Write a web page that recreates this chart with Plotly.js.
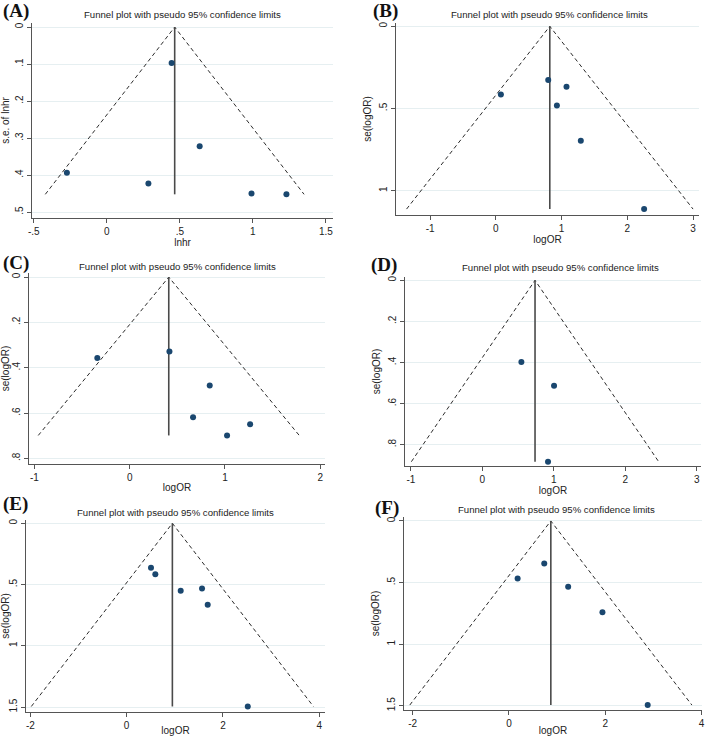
<!DOCTYPE html>
<html>
<head>
<meta charset="utf-8">
<script src="https://cdn.plot.ly/plotly-3.0.1.min.js"></script>
<style>
  html, body { margin: 0; padding: 0; background: #ffffff; }
  #chart { width: 709px; height: 736px; }
</style>
</head>
<body>
<div id="chart"></div>
<script>
// Study effects (x) and their standard errors (se) for each funnel plot
const effA = [0.444, 0.636, -0.273, 0.285, 0.991, 1.230];
const seA  = [0.097, 0.322, 0.394, 0.423, 0.450, 0.452];
const pooledA = 0.465;

const effB = [0.076, 0.796, 1.074, 0.928, 1.292, 2.255];
const seB  = [0.415, 0.327, 0.368, 0.482, 0.697, 1.112];
const pooledB = 0.82;

const effC = [-0.340, 0.417, 0.840, 0.665, 1.264, 1.022];
const seC  = [0.357, 0.329, 0.479, 0.619, 0.650, 0.699];
const pooledC = 0.41;

const effD = [0.546, 1.003, 0.919];
const seD  = [0.398, 0.513, 0.883];
const pooledD = 0.737;

const effE = [0.506, 0.596, 1.123, 1.566, 1.684, 2.516];
const seE  = [0.363, 0.415, 0.551, 0.532, 0.665, 1.495];
const pooledE = 0.95;

const effF = [0.733, 0.180, 1.230, 1.942, 2.882];
const seF  = [0.346, 0.468, 0.535, 0.741, 1.495];
const pooledF = 0.87;

// Axis tick values and their Stata-style labels
const xTicksA = [-0.5, 0, 0.5, 1, 1.5];      const xLabA = ['-.5', '0', '.5', '1', '1.5'];
const yTicksA = [0, 0.1, 0.2, 0.3, 0.4, 0.5]; const yLabA = ['0', '.1', '.2', '.3', '.4', '.5'];
const xTicksB = [-1, 0, 1, 2, 3];            const xLabB = ['-1', '0', '1', '2', '3'];
const yTicksB = [0, 0.5, 1];                 const yLabB = ['0', '.5', '1'];
const xTicksC = [-1, 0, 1, 2];               const xLabC = ['-1', '0', '1', '2'];
const yTicksC = [0, 0.2, 0.4, 0.6, 0.8];     const yLabC = ['0', '.2', '.4', '.6', '.8'];
const xTicksD = [-1, 0, 1, 2, 3];            const xLabD = ['-1', '0', '1', '2', '3'];
const yTicksD = [0, 0.2, 0.4, 0.6, 0.8];     const yLabD = ['0', '.2', '.4', '.6', '.8'];
const xTicksE = [-2, 0, 2, 4];               const xLabE = ['-2', '0', '2', '4'];
const yTicksE = [0, 0.5, 1, 1.5];            const yLabE = ['0', '.5', '1', '1.5'];
const xTicksF = [-2, 0, 2, 4];               const xLabF = ['-2', '0', '2', '4'];
const yTicksF = [0, 0.5, 1, 1.5];            const yLabF = ['0', '.5', '1', '1.5'];

const xTitles = ['lnhr', 'logOR', 'logOR', 'logOR', 'logOR', 'logOR'];
const yTitles = ['s.e. of lnhr', 'se(logOR)', 'se(logOR)', 'se(logOR)', 'se(logOR)', 'se(logOR)'];
const panelTags = ['(A)', '(B)', '(C)', '(D)', '(E)', '(F)'];
const plotTitle = 'Funnel plot with pseudo 95% confidence limits';

const W = 709, H = 736;
const FONT = 'Liberation Sans, Arial, sans-serif';

// Plot-region geometry in pixels: [left, right, top, bottom], plus axis ranges
const panels = [
  {eff: effA, se: seA, pooled: pooledA, xt: xTicksA, xl: xLabA, yt: yTicksA, yl: yLabA,
   box: [32, 333, 23, 218], xr: [-0.512, 1.549], yr: [0.516, -0.011],
   tag: [1, 11], ttl: [182, 15]},
  {eff: effB, se: seB, pooled: pooledB, xt: xTicksB, xl: xLabB, yt: yTicksB, yl: yLabB,
   box: [396, 699, 23, 215], xr: [-1.52, 3.09], yr: [1.148, -0.02],
   tag: [371, 11], ttl: [549, 14]},
  {eff: effC, se: seC, pooled: pooledC, xt: xTicksC, xl: xLabC, yt: yTicksC, yl: yLabC,
   box: [29, 325, 273, 464], xr: [-1.057, 2.05], yr: [0.825, -0.018],
   tag: [1, 263], ttl: [177, 266]},
  {eff: effD, se: seD, pooled: pooledD, xt: xTicksD, xl: xLabD, yt: yTicksD, yl: yLabD,
   box: [405, 701, 277, 466], xr: [-1.083, 3.06], yr: [0.904, -0.016],
   tag: [369, 265], ttl: [560, 268]},
  {eff: effE, se: seE, pooled: pooledE, xt: xTicksE, xl: xLabE, yt: yTicksE, yl: yLabE,
   box: [26, 325, 520, 712], xr: [-2.09, 4.12], yr: [1.54, -0.027],
   tag: [1, 504], ttl: [175, 512]},
  {eff: effF, se: seF, pooled: pooledF, xt: xTicksF, xl: xLabF, yt: yTicksF, yl: yLabF,
   box: [404, 702, 517, 710], xr: [-2.18, 4.01], yr: [1.535, -0.032],
   tag: [373, 508], ttl: [556, 509]}
];

const traces = [];
const layout = {
  width: W, height: H,
  margin: {l: 0, r: 0, t: 0, b: 0},
  paper_bgcolor: '#ffffff', plot_bgcolor: '#ffffff',
  showlegend: false,
  font: {family: FONT, size: 10, color: '#222'},
  annotations: []
};

panels.forEach((p, i) => {
  const n = i + 1;
  const xa = 'x' + (n === 1 ? '' : n);
  const ya = 'y' + (n === 1 ? '' : n);
  const seMax = Math.max(...p.se);
  const z = 1.96;

  // pseudo 95% confidence limits
  traces.push({
    x: [p.pooled - z * seMax, p.pooled, p.pooled + z * seMax],
    y: [seMax, 0, seMax],
    xaxis: xa, yaxis: ya, mode: 'lines', hoverinfo: 'skip',
    line: {color: '#2b2b2b', width: 1, dash: '4px,3px'}
  });
  // pooled estimate
  traces.push({
    x: [p.pooled, p.pooled], y: [0, seMax],
    xaxis: xa, yaxis: ya, mode: 'lines', hoverinfo: 'skip',
    line: {color: '#4a4a4a', width: 1.6}
  });
  // individual studies
  traces.push({
    x: p.eff, y: p.se,
    xaxis: xa, yaxis: ya, mode: 'markers',
    marker: {color: '#1a476f', size: 6}
  });

  const [l, r, t, b] = p.box;
  const axStyle = {
    showline: true, linecolor: '#555', linewidth: 1,
    ticks: 'outside', ticklen: 4, tickcolor: '#555', tickwidth: 1,
    tickfont: {family: FONT, size: 10, color: '#222'},
    zeroline: false, fixedrange: true
  };
  layout['xaxis' + (n === 1 ? '' : n)] = Object.assign({}, axStyle, {
    domain: [l / W, r / W], anchor: ya, range: p.xr,
    tickmode: 'array', tickvals: p.xt, ticktext: p.xl,
    showgrid: false,
    title: {text: xTitles[i], font: {family: FONT, size: 10, color: '#222'}, standoff: 1}
  });
  layout['yaxis' + (n === 1 ? '' : n)] = Object.assign({}, axStyle, {
    domain: [1 - b / H, 1 - t / H], anchor: xa, range: p.yr,
    tickmode: 'array', tickvals: p.yt, ticktext: p.yl, tickangle: -90,
    showgrid: true, gridcolor: '#e6eff1', gridwidth: 1,
    title: {text: yTitles[i], font: {family: FONT, size: 10, color: '#222'}, standoff: 4}
  });

  layout.annotations.push({
    text: plotTitle, xref: 'paper', yref: 'paper',
    x: p.ttl[0] / W, y: 1 - p.ttl[1] / H, xanchor: 'center', yanchor: 'middle',
    showarrow: false, font: {family: FONT, size: 9.6, color: '#222'}
  });
  layout.annotations.push({
    text: '<b>' + panelTags[i] + '</b>', xref: 'paper', yref: 'paper',
    x: p.tag[0] / W, y: 1 - p.tag[1] / H, xanchor: 'left', yanchor: 'middle',
    showarrow: false, font: {family: 'Liberation Serif, Times New Roman, serif', size: 19, color: '#111'}
  });
});

Plotly.newPlot('chart', traces, layout, {staticPlot: true, displayModeBar: false});
</script>
</body>
</html>
